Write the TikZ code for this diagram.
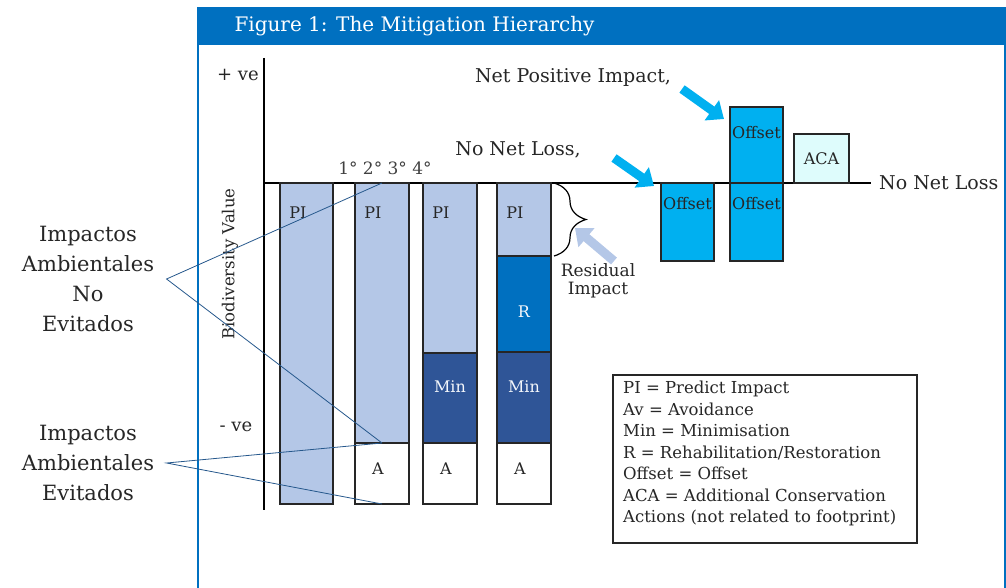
\documentclass[tikz,border=0pt]{standalone}
\usepackage{fontspec}
\setmainfont{DejaVu Serif}
\usetikzlibrary{arrows.meta}
\usetikzlibrary{decorations.pathreplacing}
\definecolor{framblue}{RGB}{0,112,192}
\definecolor{pilight}{RGB}{180,199,231}
\definecolor{mindark}{RGB}{47,85,151}
\definecolor{offcyan}{RGB}{0,176,240}
\definecolor{acapale}{RGB}{222,252,252}
\definecolor{leadblue}{RGB}{38,88,140}

\begin{document}
\begin{tikzpicture}[x=1pt, y=-1pt,
    seg/.style={draw=black!85, line width=1.2pt, anchor=north west, inner sep=0pt, outer sep=0pt},
    txt/.style={font=\fontsize{19}{22}\selectfont, text=black!85, inner sep=1pt},
    boxlbl/.style={font=\fontsize{16}{18}\selectfont, text=black!85, inner sep=0pt},
    boxlblw/.style={boxlbl, text=white!85!pilight},
    bigarrow/.style={line width=9pt, -{Triangle[length=15pt,width=24pt]}},
    leader/.style={draw=leadblue, line width=0.8pt}]
        \useasboundingbox (0,0) rectangle (1006,588);
        \fill[framblue] (197,7) rectangle (1006,45);
        \draw[framblue, line width=1.5pt] (198,45) -- (198,588);
        \draw[framblue, line width=1.5pt] (1005,45) -- (1005,588);
        \node[anchor=west, text=white, font=\fontsize{20}{22}\selectfont] (title) at (231,26) {Figure 1: The Mitigation Hierarchy};
        \coordinate (orig) at (264,183);
        \coordinate (axtop) at (264,58);
        \coordinate (axbot) at (264,510);
        \coordinate (nnlend) at (871,183);
        \draw[line width=1.2pt] (axtop) -- (axbot);
        \draw[line width=1.2pt] (orig) -- (nnlend);
        \node[txt, font=\fontsize{18}{20}\selectfont] (plusve) at (238,75) {+ ve};
        \node[txt, font=\fontsize{18}{20}\selectfont] (minusve) at (236,427) {- ve};
        \node[rotate=90, font=\fontsize{16.5}{18}\selectfont, text=black!85] (bioval) at (230,264) {Biodiversity Value};
        \node[font=\fontsize{17}{19}\selectfont, text=black!75] (ranks) at (385,168) {1° 2° 3° 4°};
        \node[seg, fill=pilight, minimum width=53pt, minimum height=321pt] (b1pi) at (280,183) {};
        \node[seg, fill=pilight, minimum width=54pt, minimum height=260pt] (b2pi) at (355,183) {};
        \node[seg, fill=white, minimum width=54pt, minimum height=61pt] (b2a) at (b2pi.south west) {};
        \node[seg, fill=pilight, minimum width=54pt, minimum height=170pt] (b3pi) at (423,183) {};
        \node[seg, fill=mindark, minimum width=54pt, minimum height=90pt] (b3min) at (b3pi.south west) {};
        \node[seg, fill=white, minimum width=54pt, minimum height=61pt] (b3a) at (b3min.south west) {};
        \node[seg, fill=pilight, minimum width=54pt, minimum height=73pt] (b4pi) at (497,183) {};
        \node[seg, fill=framblue, minimum width=54pt, minimum height=96pt] (b4r) at (b4pi.south west) {};
        \node[seg, fill=mindark, minimum width=54pt, minimum height=91pt] (b4min) at (b4r.south west) {};
        \node[seg, fill=white, minimum width=54pt, minimum height=61pt] (b4a) at (b4min.south west) {};
        \node[seg, fill=offcyan, minimum width=53pt, minimum height=78pt] (off1) at (661,183) {};
        \node[seg, fill=offcyan, minimum width=53pt, minimum height=78pt] (off2lo) at (730,183) {};
        \node[seg, fill=offcyan, minimum width=53pt, minimum height=76pt] (off2up) at (730,107) {};
        \node[seg, fill=acapale, minimum width=55pt, minimum height=49pt] (aca) at (794,134) {};
        \node[boxlbl] (b1pil) at ([shift={(18,30)}]b1pi.north west) {PI};
        \node[boxlbl] (b2pil) at ([shift={(18,30)}]b2pi.north west) {PI};
        \node[boxlbl] (b3pil) at ([shift={(18,30)}]b3pi.north west) {PI};
        \node[boxlbl] (b4pil) at ([shift={(18,30)}]b4pi.north west) {PI};
        \node[boxlbl] (b2al) at ([shift={(-4,-5)}]b2a.center) {A};
        \node[boxlbl] (b3al) at ([shift={(-4,-5)}]b3a.center) {A};
        \node[boxlbl] (b4al) at ([shift={(-4,-5)}]b4a.center) {A};
        \node[boxlblw] (b3minl) at ([shift={(0,-11)}]b3min.center) {Min};
        \node[boxlblw] (b4minl) at ([shift={(0,-11)}]b4min.center) {Min};
        \node[boxlblw] (b4rl) at ([shift={(0,8)}]b4r.center) {R};
        \node[boxlbl] (off1l) at ([shift={(0,21)}]off1.north) {Offset};
        \node[boxlbl] (off2lol) at ([shift={(0,21)}]off2lo.north) {Offset};
        \node[boxlbl] (off2upl) at ([shift={(0,26)}]off2up.north) {Offset};
        \node[boxlbl] (acal) at (aca.center) {ACA};
        \node[txt, anchor=west] (nnlright) at (878,183) {No Net Loss};
        \node[txt] (nnlleft) at (518,150) {No Net Loss,};
        \node[txt] (npi) at (573,77) {Net Positive Impact,};
        \coordinate (npitail) at (682,89);
        \coordinate (nnltail) at (614,158);
        \coordinate (restail) at (614,261);
        \draw[bigarrow, offcyan] (npitail) -- ([shift={(-6,12)}]off2up.north west);
        \draw[bigarrow, offcyan] (nnltail) -- ([shift={(-7,3)}]off1.north west);
        \draw[decorate, decoration={brace, amplitude=32pt}, line width=1.2pt] ([xshift=3pt]b4pi.north east) -- ([xshift=3pt]b4pi.south east);
        \draw[bigarrow, pilight] (restail) -- ([shift={(24,45)}]b4pi.north east);
        \node[align=center, font=\fontsize{17}{18}\selectfont, text=black!85] (resid) at (598,281) {Residual\\Impact};
        \node[seg, minimum width=304pt, minimum height=168pt] (legend) at (613,375) {};
        \node[anchor=north west, align=left, inner sep=0pt, font=\fontsize{16.5}{21.5}\selectfont, text=black!85] (legtext) at ([shift={(10,6)}]legend.north west) {PI = Predict Impact\\Av = Avoidance\\Min = Minimisation\\R = Rehabilitation/Restoration\\Offset = Offset\\ACA = Additional Conservation\\Actions (not related to footprint)};
        \node[align=center, font=\fontsize{21}{30}\selectfont, text=black!85] (noevit) at (88,279) {Impactos\\Ambientales\\No\\Evitados};
        \node[align=center, font=\fontsize{21}{30}\selectfont, text=black!85] (evit) at (88,463) {Impactos\\Ambientales\\Evitados};
        \draw[leader] (b2pi.north) -- ([xshift=9pt]noevit.east) -- (b2a.north);
        \draw[leader] (b2a.north) -- ([xshift=9pt]evit.east) -- (b2a.south);
      \end{tikzpicture}
\end{document}
